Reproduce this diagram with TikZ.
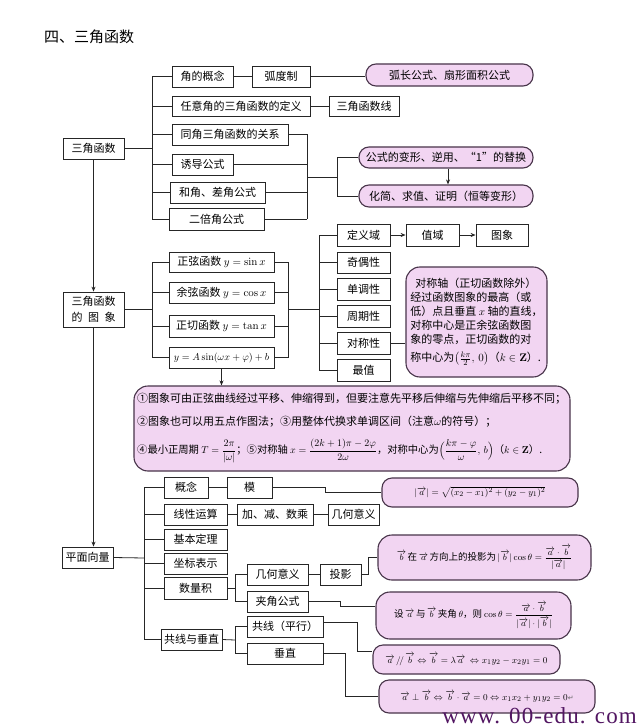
\documentclass[tikz,border=0pt]{standalone}
\usepackage{amsmath}
\usepackage[no-math]{fontspec}
\setmainfont{Noto Sans CJK SC}
\newfontfamily\wmfont[LetterSpace=5]{Liberation Serif}
\newfontfamily\symfont{DejaVu Sans}
\usetikzlibrary{arrows.meta}
\definecolor{pillfill}{RGB}{242,213,242}
\definecolor{pillline}{RGB}{72,52,74}
\definecolor{wmcol}{RGB}{82,22,98}
\tikzset{
  box/.style={draw=black!85, fill=white, line width=0.8pt, inner sep=0pt, align=center, font=\fontsize{11}{15.5}\selectfont},
  mbox/.style={box, font=\fontsize{10}{12}\selectfont},
  pill/.style={draw=pillline, fill=pillfill, line width=1.1pt, rounded corners=10pt, inner sep=0pt, align=center, font=\fontsize{11}{14}\selectfont},
  vpill/.style={pill, font=\fontsize{9.5}{12}\selectfont},
  bigpill/.style={pill, rounded corners=14pt},
  vbigpill/.style={bigpill, font=\fontsize{9.5}{12}\selectfont},
  conn/.style={line width=0.8pt, draw=black!85},
  arr/.style={conn, -{Stealth[length=5pt,width=4pt]}},
  txt/.style={inner sep=0pt, font=\fontsize{11}{14}\selectfont},
}
\newcommand\nd[7]{\node[#1, minimum width={#5-#3}, minimum height={#6-#4}] (#2) at ({(#3+#5)/2},{(#4+#6)/2}) {#7};}
\newcommand\va{\overrightarrow{a}}
\newcommand\vb{\overrightarrow{b}}
\begin{document}
\begin{tikzpicture}[x=1pt,y=-1pt]
\useasboundingbox (0,0) rectangle (640,727);
\fill[white] (0,0) rectangle (640,727);

\node[anchor=west, inner sep=0pt, font=\fontsize{15}{18}\selectfont] (title) at (44,37) {四、三角函数};

% ---------- section 1 ----------
\nd{box}{sjhs}{63}{138}{124}{159}{三角函数}
\nd{box}{jdgn}{172}{66}{233}{87}{角的概念}
\nd{box}{hdz}{252}{66}{310}{87}{弧度制}
\nd{box}{ryj}{172}{96}{310}{116}{任意角的三角函数的定义}
\nd{box}{tj}{172}{124}{288}{145}{同角三角函数的关系}
\nd{box}{yd}{172}{154}{233}{175}{诱导公式}
\nd{box}{hj}{170}{182}{265}{203}{和角、差角公式}
\nd{box}{ebj}{169}{208}{264}{230}{二倍角公式}
\nd{pill}{hc}{366}{64}{533}{86}{弧长公式、扇形面积公式}
\nd{box}{sjhsx}{329}{96}{399}{116}{三角函数线}
\nd{pill}{gs}{359}{147}{533}{168}{公式的变形、逆用、“1”的替换}
\nd{pill}{hjq}{359}{185}{533}{207}{化简、求值、证明（恒等变形）}

\coordinate (s1) at (152,148.5);
\draw[conn] (sjhs.east) -- (s1);
\draw[conn] (s1 |- jdgn.west) -- (s1 |- ebj.west);
\foreach \n in {jdgn,ryj,tj,yd,hj,ebj} \draw[conn] (s1 |- \n.west) -- (\n.west);
\draw[conn] (jdgn) -- (hdz);
\draw[conn] (hdz.east) -- (hdz.east -| hc.west);
\draw[conn] (ryj) -- (sjhsx);
\coordinate (r1) at (307,177);
\draw[conn] (r1 |- tj.east) -- (r1 |- ebj.east);
\foreach \n in {tj,yd,hj,ebj} \draw[conn] (\n.east) -- (r1 |- \n.east);
\coordinate (r2) at (337,177);
\draw[conn] (r1) -- (r2);
\draw[conn] (r2 |- gs.west) -- (r2 |- hjq.west);
\draw[conn] (r2 |- gs.west) -- (gs.west);
\draw[conn] (r2 |- hjq.west) -- (hjq.west);
\draw[arr] ([xshift=2pt]gs.south) -- ([xshift=2pt]hjq.north);

% ---------- section 2 ----------
\nd{box}{tx}{63}{292}{124}{327}{三角函数\\的\hspace{0.5em}图\hspace{0.5em}象}
\draw[arr] (sjhs.south) -- (tx.north);
\nd{box}{zx}{169}{252}{274}{272}{正弦函数 $y=\sin x$}
\nd{box}{yx}{169}{282}{274}{303}{余弦函数 $y=\cos x$}
\nd{box}{zq}{169}{315}{274}{337}{正切函数 $y=\tan x$}
\nd{mbox}{ya}{169}{347}{274}{368}{$y=A\sin(\omega x+\varphi)+b$}
\coordinate (s2) at (152,309.5);
\draw[conn] (tx.east) -- (s2);
\draw[conn] (s2 |- zx.west) -- (s2 |- ya.west);
\foreach \n in {zx,yx,zq,ya} \draw[conn] (s2 |- \n.west) -- (\n.west);
\coordinate (r3) at (288,309);
\draw[conn] (r3 |- zx.east) -- (r3 |- ya.east);
\foreach \n in {zx,yx,zq,ya} \draw[conn] (\n.east) -- (r3 |- \n.east);
\coordinate (s3) at (319,309);
\draw[conn] (r3) -- (s3);

\nd{box}{dyy}{337}{224}{390}{246}{定义域}
\nd{box}{zy}{406}{224}{459}{246}{值域}
\nd{box}{txg}{476}{224}{528}{246}{图象}
\nd{box}{jox}{337}{252}{390}{273}{奇偶性}
\nd{box}{ddx}{337}{278}{390}{300}{单调性}
\nd{box}{zqx}{337}{305}{390}{327}{周期性}
\nd{box}{dcx}{337}{332}{390}{354}{对称性}
\nd{box}{zz}{337}{359}{390}{381}{最值}
\draw[conn] (s3 |- dyy.west) -- (s3 |- zz.west);
\foreach \n in {dyy,jox,ddx,zqx,dcx,zz} \draw[conn] (s3 |- \n.west) -- (\n.west);
\draw[arr] (dyy) -- (zy);
\draw[arr] (zy) -- (txg);

\nd{bigpill}{dcp}{406}{267}{547}{377}{}
\node[txt, align=left] (dctext) at (dcp.center) {\hspace{5pt}对称轴（正切函数除外）\\经过函数图象的最高（或\\低）点且垂直 $x$ 轴的直线，\\对称中心是正余弦函数图\\象的零点，正切函数的对\\[4pt]称中心为$\left(\frac{k\pi}{2},\,0\right)$（$k\in\mathbf{Z}$）.};
\draw[conn] (dcx.east) -- (dcx.east -| dcp.west);

\nd{bigpill}{info}{134}{386}{570}{471}{}
\draw[arr] (ya.south) -- (ya.south |- info.north);
\node[txt, anchor=west] (l1) at (137,399) {①图象可由正弦曲线经过平移、伸缩得到，但要注意先平移后伸缩与先伸缩后平移不同；};
\node[txt, anchor=west] (l2) at (137,422) {②图象也可以用五点作图法；③用整体代换求单调区间（注意$\omega$的符号）；};
\node[txt, anchor=west, font=\fontsize{10.3}{13}\selectfont] (l3) at (137,451) {④最小正周期 $T=\dfrac{2\pi}{|\omega|}$；⑤对称轴 $x=\dfrac{(2k+1)\pi-2\varphi}{2\omega}$，对称中心为$\Bigl(\dfrac{k\pi-\varphi}{\omega},\,b\Bigr)$（$k\in\mathbf{Z}$）.};

% ---------- section 3 ----------
\nd{box}{pmxl}{62}{547}{113}{568}{平面向量}
\draw[arr] (tx.south) -- (tx.south |- pmxl.north);
\nd{box}{gn}{164}{477}{208}{498}{概念}
\nd{box}{mo}{227}{477}{272}{498}{模}
\nd{box}{xxys}{164}{504}{227}{525}{线性运算}
\nd{box}{jjs}{237}{504}{313}{525}{加、减、数乘}
\nd{box}{jhyy}{328}{504}{379}{525}{几何意义}
\nd{box}{jbdl}{164}{529}{227}{550}{基本定理}
\nd{box}{zbbs}{164}{553}{227}{574}{坐标表示}
\nd{box}{slj}{164}{577}{227}{599}{数量积}
\nd{box}{jhyy2}{247}{564}{308}{585}{几何意义}
\nd{box}{ty}{320}{564}{361}{585}{投影}
\nd{box}{jjgs}{247}{591}{308}{612}{夹角公式}
\nd{box}{gxcz}{161}{629}{222}{650}{共线与垂直}
\nd{box}{gx}{247}{616}{323}{637}{共线（平行）}
\nd{box}{cz}{247}{643}{323}{664}{垂直}

\nd{vpill}{modp}{382}{478}{578}{507}{$|\va|=\sqrt{(x_2-x_1)^2+(y_2-y_1)^2}$}
\nd{vbigpill}{projp}{378}{535}{591}{580}{$\vb$\,在\,$\va$\,方向上的投影为\,$|\vb|\cos\theta=\dfrac{\va\cdot\vb}{|\va|}$}
\nd{vbigpill}{jjp}{376}{592}{571}{639}{设\,$\va$\,与\,$\vb$\,夹角\,$\theta$，则 $\cos\theta=\dfrac{\va\cdot\vb}{|\va|\cdot|\vb|}$}
\nd{vpill}{parp}{373}{645}{560}{674}{$\va\,/\!/\,\vb\Leftrightarrow\vb=\lambda\va\ \Leftrightarrow x_1y_2-x_2y_1=0$}
\nd{vpill}{perpp}{379}{680}{595}{713}{$\va\perp\vb\Leftrightarrow\vb\cdot\va=0\Leftrightarrow x_1x_2+y_1y_2=0${\symfont\color{black!60}\fontsize{7}{7}\selectfont ↵}}

\coordinate (s4) at (144,558);
\draw[conn] (pmxl.east) -- (s4);
\draw[conn] (s4 |- gn.west) -- (s4 |- gxcz.west);
\foreach \n in {gn,xxys,jbdl,zbbs,slj,gxcz} \draw[conn] (s4 |- \n.west) -- (\n.west);
\draw[conn] (gn) -- (mo);
\draw[conn] (xxys) -- (jjs);
\draw[conn] (jjs) -- (jhyy);
\coordinate (m1) at (325,490);
\draw[conn] (mo.east) -- (mo.east -| m1) -- (m1 |- modp.west) -- (modp.west);

\coordinate (s5) at (235,588);
\draw[conn] (slj.east) -- (s5);
\draw[conn] (s5 |- jhyy2.west) -- (s5 |- jjgs.west);
\foreach \n in {jhyy2,jjgs} \draw[conn] (s5 |- \n.west) -- (\n.west);
\draw[conn] (jhyy2) -- (ty);
\coordinate (p1) at (368,560);
\draw[conn] (ty.east) -- (ty.east -| p1) -- (p1 |- projp.west) -- (projp.west);
\coordinate (j1) at (340,600);
\coordinate (jjin) at ([yshift=9.5pt]jjp.west);
\draw[conn] (jjgs.east) -- (jjgs.east -| j1) -- (j1 |- jjin) -- (jjin);

\coordinate (s6) at (235,640);
\draw[conn] (gxcz.east) -- (s6);
\draw[conn] (s6 |- gx.west) -- (s6 |- cz.west);
\foreach \n in {gx,cz} \draw[conn] (s6 |- \n.west) -- (\n.west);
\coordinate (g1) at (357,640);
\coordinate (gxout) at ([yshift=4pt]gx.east);
\coordinate (parin) at ([yshift=8pt]parp.west);
\draw[conn] (gxout) -- (gxout -| g1) -- (g1 |- parin) -- (parin);
\coordinate (c1) at (345,680);
\draw[conn] (cz.east) -- (cz.east -| c1) -- (c1 |- perpp.west) -- (perpp.west);

\node[anchor=base east, inner sep=0pt, text=wmcol, font=\wmfont\fontsize{23}{23}\selectfont] (wm) at (637,723) {www. 00-edu. com};
\end{tikzpicture}
\end{document}
